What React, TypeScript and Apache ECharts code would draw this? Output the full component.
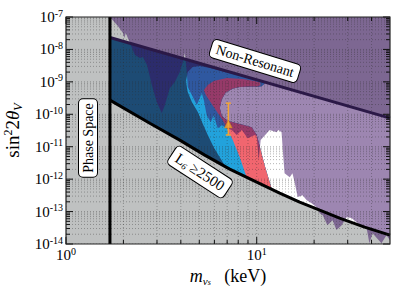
import React, { useEffect, useRef } from 'react';
import * as echarts from 'echarts';

const SERIF = 'Liberation Serif';

// Axes
const X_MIN = 1;
const X_MAX = 50;
const Y_MIN = 1e-14;
const Y_MAX = 1e-7;
const X_MAJOR = [1, 10];
const X_MINOR = [2, 3, 4, 5, 6, 7, 8, 9, 20, 30, 40];
const Y_MAJOR = [1e-14, 1e-13, 1e-12, 1e-11, 1e-10, 1e-9, 1e-8, 1e-7];
const MINOR_MULT = [2, 3, 4, 5, 6, 7, 8, 9];

// Phase-space bound (keV)
const PHASE_SPACE_M = 1.7;

// Non-resonant production line
const NR_M = [1.7, 50];
const NR_S = [2.33e-8, 7.6e-11];

// L6 >= 2500 boundary
const L6_M = [1.7, 2.75, 3.95, 5.34, 7.22, 10, 13.2, 16.8, 21.4, 27.2, 36.8, 50];
const L6_S = [2.74e-10, 5.3e-11, 1.6e-11, 5.5e-12, 2.04e-12, 8.1e-13, 3.7e-13, 1.95e-13, 1.1e-13, 6.3e-14, 3.3e-14, 1.87e-14];

// Pink inner edge and right side (shared tail of the coloured bands)
const INNER_EDGE: [number, number][] = [
  [10.12, 7.16e-10], [9.19, 7.16e-10], [8.15, 6.92e-10], [7.49, 6.21e-10], [6.88, 4.68e-10],
  [6.56, 2.94e-10], [6.4, 1.55e-10], [6.56, 8.8e-11], [7.05, 6.17e-11], [8.15, 5.0e-11],
  [9.41, 4.0e-11], [10.0, 2.3e-11], [10.4, 9.7e-12], [11.0, 2.7e-12], [12.0, 4.84e-13],
];

// Dark blue region upper boundary (along non-resonant line to the tip)
const DARK_BLUE_TOP: [number, number][] = [
  [1.7, 2.33e-8], [10.6, 1.05e-9], [11.0, 8.87e-10], [10.6, 7.26e-10],
];

// Light blue region outer boundary
const LIGHT_BLUE_OUTER: [number, number][] = [
  [6.88, 2.38e-12], [6.4, 4.77e-12], [5.95, 9.7e-12], [5.54, 2.3e-11], [5.22, 5.0e-11],
  [4.91, 1.17e-10], [4.57, 2.38e-10], [4.35, 4.84e-10], [4.25, 9.9e-10], [4.35, 2.0e-9],
  [4.62, 2.86e-9], [5.03, 3.08e-9], [5.68, 2.67e-9], [6.25, 2.31e-9], [10.6, 1.03e-9],
  [11.0, 8.87e-10], [10.6, 7.26e-10],
];

// Pink region outer boundary
const PINK_OUTER: [number, number][] = [
  [8.86, 1.14e-12], [8.15, 4.77e-12], [7.49, 1.6e-11], [6.64, 6.6e-11], [6.25, 1.09e-10],
  [5.81, 2.06e-10], [5.41, 3.9e-10], [5.28, 5.58e-10], [5.54, 8.0e-10], [5.95, 1.06e-9],
  [6.97, 1.31e-9], [8.45, 1.22e-9], [9.76, 1.06e-9], [10.4, 9.5e-10], [10.49, 8.0e-10],
];

// X-ray exclusion lower edge (left to right)
const XRAY_EDGE: [number, number][] = [
  [1.7, 1.0e-7], [1.87, 5.3e-8], [1.99, 3.2e-8], [2.02, 2.25e-8], [2.06, 3.2e-8], [2.11, 2.25e-8],
  [2.16, 1.63e-8], [2.3, 6.7e-9], [2.44, 5.4e-9], [2.53, 5.8e-9], [2.66, 3.3e-9], [2.82, 8.0e-10],
  [2.99, 2.38e-10], [3.18, 1.09e-10], [3.3, 1.92e-10], [3.5, 6.4e-10], [3.72, 9.9e-10], [3.95, 2.0e-9],
  [4.1, 4.1e-9], [4.2, 7.7e-9], [4.3, 2.0e-9], [4.35, 6.9e-10], [4.57, 3.9e-10], [4.85, 1.92e-10],
  [5.03, 3.2e-10], [5.15, 4.5e-10], [5.28, 2.74e-10], [5.47, 9.4e-11], [5.74, 5.7e-11], [5.95, 9.4e-11],
  [6.25, 3.7e-11], [6.56, 4.6e-11], [6.97, 3.7e-11], [7.4, 3.25e-11], [7.86, 2.3e-11], [8.35, 3.25e-11],
  [8.97, 1.84e-11], [9.76, 2.3e-11], [10.0, 2.1e-11], [10.24, 3.9e-12], [10.49, 1.6e-11], [11.7, 3.25e-11],
  [12.7, 2.8e-11], [13.0, 3.25e-11], [13.5, 2.8e-11], [13.7, 7.9e-12], [14.0, 1.53e-12], [14.9, 1.15e-12],
  [15.4, 1.53e-12], [15.8, 8.1e-13], [16.4, 2.8e-13], [17.4, 3.2e-13], [18.3, 2.25e-13], [19.4, 1.8e-13],
  [20.6, 1.37e-13], [21.4, 8.9e-14], [22.2, 7.7e-14], [23.5, 3.8e-14], [25.0, 5.4e-14], [26.2, 2.7e-14],
  [27.9, 3.8e-14], [29.6, 6.7e-14], [31.4, 6.3e-14], [33.4, 4.7e-14], [35.9, 3.3e-14], [37.7, 3.1e-14],
  [39.0, 1.06e-14], [40.5, 2.15e-14], [45.1, 1.06e-14], [47.9, 1.87e-14], [50, 1.31e-14],
];

// 3.55 keV line point with error bar
const LINE_M = [7.1];
const LINE_S = [5.0e-11];
const LINE_LO = [2.3e-11];
const LINE_HI = [2.2e-10];

const GREY = '#bfc1c1';
const DARK_BLUE = '#1d4b74';
const LIGHT_BLUE = '#22a2dc';
const PINK = '#f1666f';
const PURPLE = 'rgba(60,14,100,0.5)';
const NR_COLOR = '#2b1947';
const ORANGE = '#f4a532';

const l6Points = (): [number, number][] => L6_M.map((m, i) => [m, L6_S[i]] as [number, number]);
const closeOnL6 = (path: [number, number][], mFrom: number, mTo: number): [number, number][] =>
  path.concat(l6Points().filter((p) => p[0] > mFrom && p[0] < mTo).reverse());

const isPow10 = (v: number) => Math.abs(Math.log10(v) - Math.round(Math.log10(v))) < 1e-6;

export default function App() {
  const ref = useRef<HTMLDivElement>(null);
  useEffect(() => {
    if (!ref.current) return;
    const chart = echarts.init(ref.current, null, { renderer: 'svg' });

    const wedge: [number, number][] = [
      [NR_M[0], NR_S[0]], [NR_M[1], NR_S[1]], ...l6Points().reverse(),
    ];
    const darkBlue = closeOnL6([...DARK_BLUE_TOP, ...INNER_EDGE], 0, 12.0);
    const lightBlue = closeOnL6([...LIGHT_BLUE_OUTER, ...INNER_EDGE], 6.88, 12.0);
    const pink = closeOnL6([...PINK_OUTER, ...INNER_EDGE], 8.86, 12.0);
    const xray: [number, number][] = [[X_MAX, Y_MAX], ...XRAY_EDGE];

    let zc = 1;
    const poly = (pts: [number, number][], fill: string) => ({
      type: 'custom',
      coordinateSystem: 'cartesian2d',
      clip: true,
      silent: true,
      z: zc++,
      data: [pts[0]],
      renderItem: (_p: any, api: any) => ({
        type: 'polygon',
        shape: { points: pts.map((p) => api.coord(p)) },
        style: { fill },
      }),
    });

    const xGrid = [...X_MAJOR, ...X_MINOR];
    const yMinor: number[] = [];
    Y_MAJOR.slice(0, -1).forEach((d) => MINOR_MULT.forEach((k) => yMinor.push(k * d)));
    const yGrid = [...Y_MAJOR, ...yMinor];

    const gridSeries = {
      type: 'custom',
      coordinateSystem: 'cartesian2d',
      silent: true,
      clip: true,
      z: 20,
      data: [[X_MIN, Y_MIN]],
      renderItem: (_p: any, api: any) => {
        const [xl, yb] = api.coord([X_MIN, Y_MIN]);
        const [xr, yt] = api.coord([X_MAX, Y_MAX]);
        const style = { stroke: 'rgba(45,45,45,0.45)', lineWidth: 0.8, lineDash: [1, 2] };
        const children: any[] = [];
        xGrid.forEach((m) => {
          const x = api.coord([m, Y_MIN])[0];
          children.push({ type: 'line', shape: { x1: x, y1: yt, x2: x, y2: yb }, style });
        });
        yGrid.forEach((s) => {
          const y = api.coord([X_MIN, s])[1];
          children.push({ type: 'line', shape: { x1: xl, y1: y, x2: xr, y2: y }, style });
        });
        return { type: 'group', children };
      },
    };

    const frameSeries = {
      type: 'custom',
      coordinateSystem: 'cartesian2d',
      silent: true,
      clip: false,
      z: 40,
      data: [[X_MIN, Y_MIN]],
      renderItem: (_p: any, api: any) => {
        const [xl, yb] = api.coord([X_MIN, Y_MIN]);
        const [xr, yt] = api.coord([X_MAX, Y_MAX]);
        const st = { stroke: '#111', lineWidth: 1 };
        const children: any[] = [];
        const tx = (m: number, len: number) => {
          const x = api.coord([m, Y_MIN])[0];
          children.push({ type: 'line', shape: { x1: x, y1: yb, x2: x, y2: yb - len }, style: st });
          children.push({ type: 'line', shape: { x1: x, y1: yt, x2: x, y2: yt + len }, style: st });
        };
        const ty = (s: number, len: number) => {
          const y = api.coord([X_MIN, s])[1];
          children.push({ type: 'line', shape: { x1: xl, y1: y, x2: xl + len, y2: y }, style: st });
          children.push({ type: 'line', shape: { x1: xr, y1: y, x2: xr - len, y2: y }, style: st });
        };
        X_MAJOR.forEach((m) => tx(m, 7));
        X_MINOR.forEach((m) => tx(m, 4));
        Y_MAJOR.forEach((s) => ty(s, 7));
        yMinor.forEach((s) => ty(s, 4));
        children.push({
          type: 'rect',
          shape: { x: xl, y: yt, width: xr - xl, height: yb - yt },
          style: { fill: 'none', stroke: '#222', lineWidth: 1.2 },
        });
        return { type: 'group', children };
      },
    };

    const errSeries = {
      type: 'custom',
      coordinateSystem: 'cartesian2d',
      silent: true,
      z: 30,
      data: LINE_M.map((m, i) => [m, LINE_S[i]]),
      renderItem: (p: any, api: any) => {
        const i = p.dataIndex;
        const top = api.coord([LINE_M[i], LINE_HI[i]]);
        const bot = api.coord([LINE_M[i], LINE_LO[i]]);
        const st = { stroke: ORANGE, lineWidth: 1.5 };
        return {
          type: 'group',
          children: [
            { type: 'line', shape: { x1: top[0], y1: top[1], x2: bot[0], y2: bot[1] }, style: st },
            { type: 'line', shape: { x1: top[0] - 2.5, y1: top[1], x2: top[0] + 2.5, y2: top[1] }, style: st },
            { type: 'line', shape: { x1: bot[0] - 2.5, y1: bot[1], x2: bot[0] + 2.5, y2: bot[1] }, style: st },
          ],
        };
      },
    };

    const labelRich = {
      b: { fontSize: 15, fontFamily: SERIF, color: '#000', lineHeight: 18 },
      s: { fontSize: 10, fontFamily: SERIF, color: '#000', lineHeight: 9, verticalAlign: 'top' },
    };
    const powLabel = (v: number) => (isPow10(v) ? `{b|10}{s|${Math.round(Math.log10(v))}}` : '');

    const option: any = {
      animation: false,
      textStyle: { fontFamily: SERIF },
      grid: {
        left: 66, right: 9, top: 17, bottom: 55, show: true, backgroundColor: GREY, borderWidth: 0,
        containLabel: false, outerBoundsMode: 'none',
      },
      xAxis: {
        type: 'log',
        logBase: 10,
        min: X_MIN,
        max: X_MAX,
        axisLine: { show: false },
        axisTick: { show: false },
        splitLine: { show: false },
        axisLabel: { margin: 2, showMaxLabel: false, formatter: powLabel, rich: labelRich, fontFamily: SERIF },
        name: '{it|m}{sub|ν}{ss|s}{t|   (keV)}',
        nameLocation: 'middle',
        nameGap: 18,
        nameTextStyle: {
          fontFamily: SERIF,
          rich: {
            it: { fontSize: 18, fontFamily: SERIF, fontStyle: 'italic', color: '#000', lineHeight: 20 },
            sub: { fontSize: 11, fontFamily: SERIF, fontStyle: 'italic', color: '#000', lineHeight: 11, verticalAlign: 'bottom' },
            ss: { fontSize: 8, fontFamily: SERIF, fontStyle: 'italic', color: '#000', lineHeight: 6, verticalAlign: 'bottom' },
            t: { fontSize: 18, fontFamily: SERIF, color: '#000', lineHeight: 20 },
          },
        },
      },
      yAxis: {
        type: 'log',
        logBase: 10,
        min: Y_MIN,
        max: Y_MAX,
        axisLine: { show: false },
        axisTick: { show: false },
        splitLine: { show: false },
        axisLabel: { margin: 3, formatter: powLabel, rich: labelRich, fontFamily: SERIF },
        name: '{t|sin}{sup|2}{t|2}{it|θ}{sub|V}',
        nameLocation: 'middle',
        nameRotate: 90,
        nameGap: 38,
        nameTextStyle: {
          fontFamily: SERIF,
          rich: {
            t: { fontSize: 19, fontFamily: SERIF, color: '#000', lineHeight: 22 },
            sup: { fontSize: 12, fontFamily: SERIF, color: '#000', lineHeight: 11, verticalAlign: 'top' },
            it: { fontSize: 19, fontFamily: SERIF, fontStyle: 'italic', color: '#000', lineHeight: 22 },
            sub: { fontSize: 12, fontFamily: SERIF, fontStyle: 'italic', color: '#000', lineHeight: 11, verticalAlign: 'bottom' },
          },
        },
      },
      series: [
        poly(wedge, '#ffffff'),
        poly(darkBlue, DARK_BLUE),
        poly(lightBlue, LIGHT_BLUE),
        poly(pink, PINK),
        poly(xray, PURPLE),
        gridSeries,
        {
          type: 'line', z: 25, silent: true, symbol: 'none',
          data: NR_M.map((m, i) => [m, NR_S[i]]),
          lineStyle: { color: NR_COLOR, width: 3 },
        },
        {
          type: 'line', z: 25, silent: true, symbol: 'none',
          data: l6Points(),
          lineStyle: { color: '#000', width: 3 },
        },
        {
          type: 'line', z: 25, silent: true, symbol: 'none',
          data: [[PHASE_SPACE_M, Y_MIN], [PHASE_SPACE_M, Y_MAX]],
          lineStyle: { color: '#000', width: 3 },
        },
        errSeries,
        {
          type: 'scatter', z: 31, silent: true, symbol: 'triangle', symbolSize: 8,
          data: LINE_M.map((m, i) => [m, LINE_S[i]]),
          itemStyle: { color: ORANGE, borderColor: '#c07a10', borderWidth: 0.5 },
        },
        frameSeries,
      ],
      graphic: [
        {
          type: 'text', x: 255, y: 61, rotation: (-17 * Math.PI) / 180, z: 100,
          style: {
            text: 'Non-Resonant', fontSize: 14, fontFamily: SERIF, fill: '#000',
            align: 'center', verticalAlign: 'middle', backgroundColor: '#fff',
            borderColor: '#000', borderWidth: 1, borderRadius: 4, padding: [2, 5],
          },
        },
        {
          type: 'text', x: 200, y: 172, rotation: (-33 * Math.PI) / 180, z: 100,
          style: {
            text: '{l|L}{sub|6}{t| ≥2500}', fill: '#000', align: 'center', verticalAlign: 'middle',
            backgroundColor: '#fff', borderColor: '#000', borderWidth: 1, borderRadius: 4, padding: [2, 5],
            rich: {
              l: { fontSize: 15, fontFamily: SERIF, lineHeight: 17 },
              sub: { fontSize: 9, fontFamily: SERIF, fontStyle: 'italic', lineHeight: 8, verticalAlign: 'bottom' },
              t: { fontSize: 15, fontFamily: SERIF, lineHeight: 17 },
            },
          },
        },
        {
          type: 'text', x: 88, y: 138, rotation: Math.PI / 2, z: 100,
          style: {
            text: 'Phase Space', fontSize: 14, fontFamily: SERIF, fill: '#000',
            align: 'center', verticalAlign: 'middle', backgroundColor: '#fff',
            borderColor: '#000', borderWidth: 1, borderRadius: 4, padding: [2, 4],
          },
        },
      ],
    };

    chart.setOption(option);
    return () => chart.dispose();
  }, []);

  return <div ref={ref} style={{ position: 'absolute', left: 0, top: 0, width: 399, height: 299 }} />;
}
